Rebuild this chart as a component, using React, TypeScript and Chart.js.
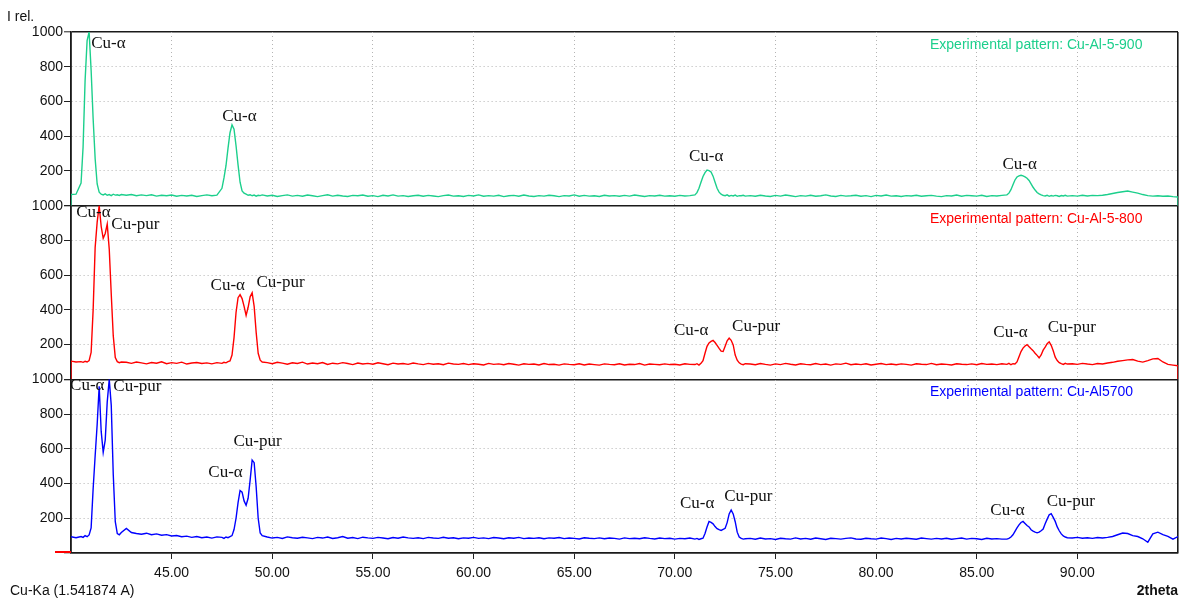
import React, { useEffect, useRef } from 'react';
import { Chart, registerables } from 'chart.js';

Chart.register(...registerables);

// 2theta sampling positions (degrees)
const THETA = [
  40, 40, 40.25,
  40.5, 40.6, 40.7, 40.8, 40.9, 41, 41.1, 41.2, 41.3, 41.4, 41.5, 41.6, 41.7, 41.8, 41.9, 42, 42.1, 42.2, 42.3, 42.4, 42.5,
  42.75, 43, 43.25, 43.5, 43.75, 44, 44.25, 44.5, 44.75, 45, 45.25, 45.5, 45.75, 46, 46.25, 46.5, 46.75, 47, 47.25,
  47.5, 47.6, 47.7, 47.8, 47.9, 48, 48.1, 48.2, 48.3, 48.4, 48.5, 48.6, 48.7, 48.8, 48.9, 49, 49.1, 49.2, 49.3, 49.4, 49.5,
  49.75, 50, 50.25, 50.5, 50.75, 51, 51.25, 51.5, 51.75, 52, 52.25, 52.5, 52.75, 53, 53.25, 53.5, 53.75, 54, 54.25, 54.5, 54.75,
  55, 55.25, 55.5, 55.75, 56, 56.25, 56.5, 56.75, 57, 57.25, 57.5, 57.75, 58, 58.25, 58.5, 58.75, 59, 59.25, 59.5, 59.75,
  60, 60.25, 60.5, 60.75, 61, 61.25, 61.5, 61.75, 62, 62.25, 62.5, 62.75, 63, 63.25, 63.5, 63.75, 64, 64.25, 64.5, 64.75,
  65, 65.25, 65.5, 65.75, 66, 66.25, 66.5, 66.75, 67, 67.25, 67.5, 67.75, 68, 68.25, 68.5, 68.75, 69, 69.25, 69.5, 69.75,
  70, 70.25, 70.5, 70.75,
  71, 71.1, 71.2, 71.3, 71.4, 71.5, 71.6, 71.7, 71.8, 71.9, 72, 72.1, 72.2, 72.3, 72.4, 72.5, 72.6, 72.7, 72.8, 72.9, 73, 73.1, 73.2, 73.3, 73.4, 73.5,
  73.75, 74, 74.25, 74.5, 74.75, 75, 75.25, 75.5, 75.75, 76, 76.25, 76.5, 76.75, 77, 77.25, 77.5, 77.75, 78, 78.25, 78.5, 78.75,
  79, 79.25, 79.5, 79.75, 80, 80.25, 80.5, 80.75, 81, 81.25, 81.5, 81.75, 82, 82.25, 82.5, 82.75, 83, 83.25, 83.5, 83.75,
  84, 84.25, 84.5, 84.75, 85, 85.25, 85.5, 85.75, 86, 86.25,
  86.5, 86.6, 86.7, 86.8, 86.9, 87, 87.1, 87.2, 87.3, 87.4, 87.5, 87.6, 87.7, 87.8, 87.9, 88, 88.1, 88.2, 88.3, 88.4,
  88.5, 88.6, 88.7, 88.8, 88.9, 89, 89.1, 89.2, 89.3, 89.4, 89.5,
  89.75, 90, 90.25, 90.5, 90.75, 91, 91.25, 91.5, 91.75, 92, 92.25, 92.5, 92.75, 93, 93.25, 93.5, 93.75, 94, 94.25, 94.5, 94.75, 95, 95,
];

// Relative intensity, Cu-Al-5-900 (top panel)
const I_900 = [
  0, 64, 66,
  130, 337, 720, 950, 1000, 780, 500, 270, 125, 78, 66, 62, 68, 60, 64, 58, 66, 61, 63, 59, 64,
  60, 64, 57, 62, 58, 63, 55, 60, 57, 61, 54, 59, 56, 60, 53, 58, 62, 57, 61,
  100, 160, 230, 330, 420, 465, 440, 345, 235, 135, 85, 72, 66, 60, 63, 57, 61, 55, 60, 58, 62,
  56, 60, 53, 58, 62, 55, 59, 54, 61, 57, 52, 58, 63, 55, 60, 56, 53, 59, 57, 61,
  54, 58, 52, 60, 56, 62, 55, 58, 53, 57, 60, 54, 59, 56, 52, 58, 61, 55, 57, 53,
  59, 56, 62, 54, 58, 55, 60, 52, 57, 59, 54, 61, 56, 53, 58, 55, 60, 57, 52, 58,
  56, 62, 54, 59, 55, 57, 53, 60, 56, 58, 54, 59, 55, 61, 57, 53, 58, 56, 60, 55,
  57, 54, 59, 56, 58,
  62, 75, 100, 135, 168, 190, 205, 202, 194, 170, 135, 100, 78, 66, 60, 57, 62, 55, 59, 56, 61, 54, 58, 57, 60, 55,
  58, 54, 60, 56, 53, 59, 55, 61, 57, 52, 58, 55, 60, 54, 57, 62, 56, 53, 59, 55,
  57, 60, 54, 58, 52, 59, 56, 61, 55, 57, 53, 58, 56, 60, 54, 57, 59, 55, 52, 58,
  56, 61, 54, 59, 57, 55, 60, 53, 58, 56, 59,
  62, 72, 92, 120, 148, 165, 172, 175, 172, 166, 158, 145, 126, 106, 90, 76, 68, 62, 58, 56,
  60, 54, 58, 55, 59, 57, 53, 58, 56, 60, 55,
  58, 55, 60, 56, 59, 58, 60, 64, 70, 76, 80, 84, 78, 72, 64, 58, 55, 57, 54, 56, 52, 50, 0,
];

// Relative intensity, Cu-Al-5-800 (middle panel)
const I_800 = [
  0, 105, 100,
  102, 98, 104, 100, 108, 155, 400, 760, 905, 1000, 880, 812, 840, 894, 750, 490, 250, 125, 102, 96, 100,
  98, 92, 100, 95, 89, 97, 93, 101, 90, 96, 92, 99, 88, 94, 97, 91, 95, 89, 96,
  92, 98, 95, 102, 106, 140, 240, 385, 470, 488, 465, 420, 368, 415, 475, 498, 420, 270, 150, 110, 100,
  96, 90, 98, 93, 87, 95, 91, 99, 88, 94, 90, 97, 86, 93, 89, 96, 91, 85, 94, 88,
  92, 87, 95, 90, 84, 93, 88, 91, 86, 94, 89, 85, 92, 87, 90, 84, 93, 88, 86, 91,
  85, 90, 87, 83, 92, 86, 89, 84, 91, 87, 82, 90, 86, 88, 83, 91, 85, 87, 82, 89,
  86, 84, 90, 83, 88, 85, 82, 89, 86, 84, 90, 83, 87, 85, 91, 82, 88, 86, 84, 89,
  85, 87, 83, 90, 86,
  85, 90, 82, 92, 108, 150, 190, 210, 218, 224, 212, 195, 178, 162, 160, 190, 222, 238, 225, 198, 140, 110, 95, 88, 84, 90,
  88, 84, 91, 86, 82, 89, 85, 92, 87, 83, 90, 86, 84, 91, 85, 88, 82, 89, 86, 93,
  84, 88, 85, 90, 83, 87, 91, 85, 88, 84, 89, 86, 82, 90, 87, 85, 92, 84, 88, 86,
  83, 90, 87, 85, 89, 84, 91, 86, 88, 85, 90,
  86, 92, 84, 90, 88, 100, 130, 160, 180, 192, 200, 188, 176, 165, 150, 138, 124, 140, 168, 185,
  205, 216, 196, 165, 128, 108, 96, 90, 86, 92, 88,
  90, 86, 92, 88, 85, 91, 88, 94, 98, 104, 108, 112, 114, 105, 99, 108, 118, 120, 100, 86, 82, 78, 0,
];

// Relative intensity, Cu-Al5700 (bottom panel)
const I_700 = [
  94, 94, 88,
  95, 90, 100, 94, 104, 145, 370, 560, 740, 960, 700, 580, 650, 870, 1000, 850, 450, 180, 112, 105, 118,
  142, 118, 112, 108, 114, 105, 110, 102, 106, 98, 101, 94, 97, 90, 95, 88, 92, 86, 93,
  90, 84, 92, 88, 94, 100, 135, 200, 290, 360, 350, 300, 275, 315, 420, 535, 520, 380, 200, 115, 100,
  92, 86, 90, 84, 93, 88, 85, 91, 87, 83, 90, 86, 92, 84, 88, 95, 85, 89, 83, 91,
  87, 84, 90, 86, 82, 89, 85, 92, 87, 84, 88, 83, 90, 86, 84, 91, 85, 88, 82, 87,
  85, 90, 84, 87, 83, 89, 86, 82, 88, 85, 90, 83, 86, 84, 88, 82, 87, 85, 89, 83,
  86, 84, 81, 88, 85, 83, 87, 82, 86, 84, 80, 87, 83, 85, 82, 88, 84, 81, 86, 83,
  85, 80, 84, 82, 86,
  80, 84, 78, 82, 85, 112, 150, 182, 176, 168, 152, 140, 134, 130, 136, 142, 175, 225, 248, 225, 180, 120, 92, 84, 80, 82,
  84, 79, 86, 81, 83, 78, 85, 82, 80, 87, 81, 84, 79, 86, 82, 78, 85, 83, 80, 84,
  87, 81, 79, 85, 82, 80, 86, 83, 78, 84, 81, 85, 82, 79, 86, 83, 80, 84, 81, 85,
  79, 83, 86, 80, 84, 82, 78, 85, 81, 83, 80,
  80, 84, 92, 105, 125, 145, 162, 176, 182, 170, 158, 150, 134, 126, 120, 116, 120, 128, 138, 168,
  195, 220, 226, 205, 182, 150, 128, 110, 98, 92, 88,
  86, 90, 85, 88, 84, 89, 86, 90, 95, 105, 115, 112, 100, 95, 82, 62, 110, 120, 106, 96, 80, 95, 95,
];

const SERIES = [I_900, I_800, I_700];
const SERIES_NAMES = [
  'Experimental pattern: Cu-Al-5-900',
  'Experimental pattern: Cu-Al-5-800',
  'Experimental pattern: Cu-Al5700',
];
const SERIES_COLORS = ['#1ccf8c', '#ff0000', '#0000ff'];
const PANEL_IDS = ['yTop', 'yMid', 'yBot'];

// Peak labels: text, 2theta, intensity, panel index
const PEAK_LABELS = [
  'Cu-α', 'Cu-α', 'Cu-α', 'Cu-α',
  'Cu-α', 'Cu-pur', 'Cu-α', 'Cu-pur', 'Cu-α', 'Cu-pur', 'Cu-α', 'Cu-pur',
  'Cu-α', 'Cu-pur', 'Cu-α', 'Cu-pur', 'Cu-α', 'Cu-pur', 'Cu-α', 'Cu-pur',
];
const PEAK_THETA = [
  41.86, 48.37, 71.56, 87.13,
  41.11, 43.2, 47.79, 50.41, 70.81, 74.04, 86.68, 89.72,
  40.81, 43.3, 47.68, 49.27, 71.11, 73.65, 86.53, 89.67,
];
const PEAK_I = [
  931, 514, 283, 237,
  959, 889, 543, 559, 283, 305, 272, 299,
  965, 958, 462, 640, 283, 328, 243, 299,
];
const PEAK_PANEL = [0, 0, 0, 0, 1, 1, 1, 1, 1, 1, 1, 1, 2, 2, 2, 2, 2, 2, 2, 2];

const X_MIN = 40;
const X_MAX = 95;
const X_STEP = 5;
const Y_MIN = 0;
const Y_MAX = 1000;
const Y_STEP = 200;

const SANS = '"Liberation Sans", Arial, sans-serif';
const SERIF = '"Liberation Serif", "Times New Roman", serif';
const FRAME = '#1a1a1a';
const GRID = '#b4b4b4';
const DOTS = [1, 3];

for (const s of SERIES) {
  if (s.length !== THETA.length) {
    throw new Error('length mismatch ' + s.length + ' vs ' + THETA.length);
  }
}

function makeYScale(isBottom: boolean) {
  const isFrame = (ctx: any) => {
    const v = ctx.tick ? ctx.tick.value : undefined;
    return v === Y_MAX || (isBottom && v === Y_MIN);
  };
  return {
    type: 'linear',
    position: 'left',
    stack: 'xrd',
    stackWeight: 1,
    min: Y_MIN,
    max: Y_MAX,
    ticks: {
      stepSize: Y_STEP,
      autoSkip: false,
      padding: 1,
      color: '#111',
      font: { family: SANS, size: 14 },
      callback: (v: any) => (Number(v) === Y_MIN ? '' : String(v)),
    },
    grid: {
      color: (ctx: any) => {
        const v = ctx.tick ? ctx.tick.value : undefined;
        if (isFrame(ctx)) return FRAME;
        if (v === Y_MIN) return 'rgba(0,0,0,0)';
        return GRID;
      },
      lineWidth: (ctx: any) => (isFrame(ctx) ? 1.6 : 1),
      tickLength: 7,
      tickColor: '#222',
      tickWidth: 1,
      tickBorderDash: [],
    },
    border: {
      display: true,
      color: FRAME,
      width: 1.6,
      dash: (ctx: any) => (isFrame(ctx) ? [] : DOTS),
    },
    afterFit: (scale: any) => {
      scale.width = 71;
      scale.paddingTop = 0;
      scale.paddingBottom = 0;
    },
  };
}

const textPlugin = {
  id: 'xrdText',
  afterDatasetsDraw(chart: any) {
    const { ctx, chartArea, scales } = chart;
    ctx.save();
    // peak labels
    ctx.font = `17px ${SERIF}`;
    ctx.fillStyle = '#111';
    ctx.textAlign = 'center';
    ctx.textBaseline = 'middle';
    PEAK_LABELS.forEach((t, i) => {
      const ys = scales[PANEL_IDS[PEAK_PANEL[i]]];
      ctx.fillText(t, scales.x.getPixelForValue(PEAK_THETA[i]), ys.getPixelForValue(PEAK_I[i]));
    });
    // series names
    ctx.font = `14px ${SANS}`;
    ctx.textAlign = 'left';
    SERIES_NAMES.forEach((n, k) => {
      const ys = scales[PANEL_IDS[k]];
      ctx.fillStyle = SERIES_COLORS[k];
      ctx.fillText(n, chartArea.right - 248, ys.top + 13);
    });
    // axis captions
    ctx.fillStyle = '#111';
    ctx.fillText('I rel.', 7, 17);
    ctx.fillText('Cu-Ka (1.541874 A)', 10, 591);
    ctx.font = `bold 14px ${SANS}`;
    ctx.textAlign = 'right';
    ctx.fillText('2theta', chartArea.right, 591);
    // zero marker
    ctx.strokeStyle = '#ff0000';
    ctx.lineWidth = 2;
    ctx.beginPath();
    ctx.moveTo(chartArea.left - 16, chartArea.bottom - 1);
    ctx.lineTo(chartArea.left, chartArea.bottom - 1);
    ctx.stroke();
    ctx.restore();
  },
};

export default function App() {
  const ref = useRef<HTMLCanvasElement | null>(null);

  useEffect(() => {
    const canvas = ref.current;
    if (!canvas) return;
    const xEdge = (ctx: any) => {
      const v = ctx.tick ? ctx.tick.value : undefined;
      return v === X_MIN || v === X_MAX;
    };
    const chart = new Chart(canvas, {
      type: 'line',
      data: {
        datasets: SERIES.map((s, k) => ({
          label: SERIES_NAMES[k],
          data: THETA.map((t, i) => ({ x: t, y: s[i] })),
          borderColor: SERIES_COLORS[k],
          backgroundColor: SERIES_COLORS[k],
          borderWidth: 1.4,
          pointRadius: 0,
          tension: 0,
          fill: false,
          yAxisID: PANEL_IDS[k],
        })),
      },
      options: {
        responsive: false,
        animation: false,
        devicePixelRatio: 1,
        layout: { padding: { top: 32, right: 3, left: 0, bottom: 0 } },
        plugins: {
          legend: { display: false },
          tooltip: { enabled: false },
          title: { display: false },
        },
        scales: {
          // stacked scales are laid out bottom-first
          yBot: makeYScale(true),
          yMid: makeYScale(false),
          yTop: makeYScale(false),
          x: {
            type: 'linear',
            position: 'bottom',
            min: X_MIN,
            max: X_MAX,
            ticks: {
              stepSize: X_STEP,
              autoSkip: false,
              maxRotation: 0,
              padding: 6,
              color: '#111',
              font: { family: SANS, size: 14 },
              callback: (v: any) => {
                const n = Number(v);
                return n === X_MIN || n === X_MAX ? '' : n.toFixed(2);
              },
            },
            grid: {
              color: (ctx: any) => (xEdge(ctx) ? FRAME : GRID),
              lineWidth: (ctx: any) => (xEdge(ctx) ? 1.6 : 1),
              tickLength: 6,
              tickColor: (ctx: any) => (xEdge(ctx) ? 'rgba(0,0,0,0)' : '#222'),
              tickWidth: 1,
              tickBorderDash: [],
            },
            border: {
              display: true,
              color: FRAME,
              width: 1.6,
              dash: (ctx: any) => (xEdge(ctx) ? [] : DOTS),
            },
            afterFit: (scale: any) => {
              scale.height = 48;
              scale.paddingLeft = 0;
              scale.paddingRight = 0;
            },
          },
        } as any,
      },
      plugins: [textPlugin],
    } as any);
    return () => chart.destroy();
  }, []);

  return (
    <div style={{ position: 'absolute', left: 0, top: 0, width: 1181, height: 601, background: '#fff' }}>
      <canvas ref={ref} width={1181} height={601} style={{ display: 'block' }} />
    </div>
  );
}
